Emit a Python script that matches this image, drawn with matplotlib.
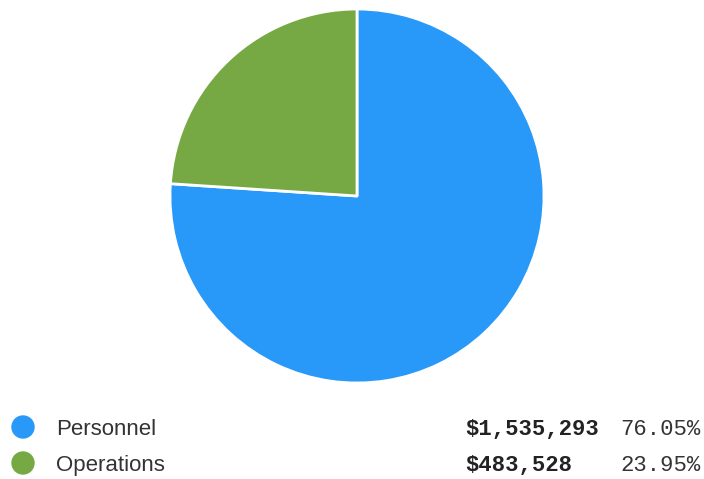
import matplotlib.pyplot as plt
from matplotlib.patches import Circle

categories = ['Personnel', 'Operations']
amounts = [1535293, 483528]
colors = ['#2898f9', '#76a944']

W, H = 704, 479
total = sum(amounts)
shares = [a / total * 100 for a in amounts]

fig = plt.figure(figsize=(W / 100, H / 100), dpi=100)

# pie centred at (357, 196) px, radius 187 px
cx, cy, r = 357, 196, 187
ax = fig.add_axes([(cx - r) / W, (H - cy - r) / H, 2 * r / W, 2 * r / H])
ax.pie(amounts, colors=colors, startangle=90, counterclock=False, radius=1,
       wedgeprops=dict(edgecolor='white', linewidth=2, joinstyle='round'))
ax.set_xlim(-1, 1)
ax.set_ylim(-1, 1)
ax.set_aspect('equal')
ax.axis('off')

# legend rows below the pie: dot centre and text baseline in px from top
dot_y = [427, 463]
base_y = [435, 471]
for name, amt, pct, col, dy, by in zip(categories, amounts, shares, colors, dot_y, base_y):
    fy = (H - by) / H
    fig.patches.append(Circle((23, H - dy), 11, color=col, transform=None, figure=fig))
    fig.text(56 / W, fy, name, fontsize=16, family='Liberation Sans', color='#333333',
             va='baseline', ha='left')
    fig.text(465 / W, fy, f'${amt:,}', fontsize=16, family='Liberation Mono',
             weight='bold', color='#222222', va='baseline', ha='left')
    fig.text(701 / W, fy, f'{pct:.2f}%', fontsize=16, family='Liberation Mono',
             color='#333333', va='baseline', ha='right')

fig.savefig('out.png', dpi=100, facecolor='white')
